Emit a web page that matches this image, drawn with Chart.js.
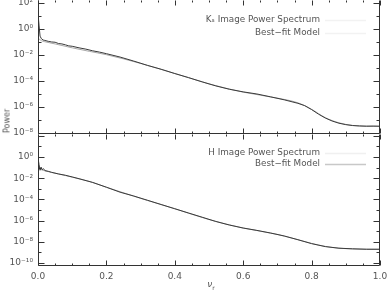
<!DOCTYPE html>
<html>
<head>
<meta charset="utf-8">
<script src="https://cdn.jsdelivr.net/npm/chart.js@4.4.1/dist/chart.umd.min.js"></script>
<style>
  body { margin: 0; background: #fff; width: 389px; height: 291px; overflow: hidden; position: relative; font-family: "DejaVu Sans", sans-serif; }
  canvas { position: absolute; left: 0; top: 0; }
  #ytitle { position: absolute; left: 7px; top: 121px; transform: translate(-50%, -50%) rotate(-90deg); font-size: 8px; color: #555; white-space: nowrap; }
  #xtitle { position: absolute; left: 211px; top: 285px; transform: translate(-50%, -50%); font-size: 9px; color: #555; white-space: nowrap; }
  #xtitle sub { font-size: 6px; }
</style>
</head>
<body>
<canvas id="topChart" width="389" height="291"></canvas>
<canvas id="bottomChart" width="389" height="291"></canvas>
<div id="ytitle">Power</div>
<div id="xtitle"><i>ν</i><sub>r</sub></div>
<script>
// valeurs (log10 de la puissance)
const nuK = [0, 0.003, 0.006, 0.01, 0.015, 0.02, 0.03, 0.04, 0.05, 0.06, 0.07, 0.08, 0.09, 0.10,
  0.12, 0.14, 0.16, 0.18, 0.20, 0.24, 0.28, 0.32, 0.36, 0.40, 0.44, 0.48, 0.52, 0.56, 0.60, 0.64,
  0.68, 0.72, 0.76, 0.78, 0.80, 0.82, 0.84, 0.86, 0.88, 0.90, 0.92, 0.94, 0.96, 0.98, 1.0];
const logK = [1.2, 0.3, -0.55, -0.75, -0.85, -0.88, -0.95, -1.0, -1.02, -1.12, -1.15, -1.22, -1.3, -1.33,
  -1.45, -1.55, -1.68, -1.78, -1.9, -2.16, -2.47, -2.8, -3.1, -3.43, -3.74, -4.07, -4.38, -4.64, -4.84, -5.0,
  -5.22, -5.45, -5.72, -5.9, -6.2, -6.55, -6.85, -7.08, -7.25, -7.36, -7.43, -7.46, -7.48, -7.47, -7.48];

const nuFit = [0, 0.01, 0.02, 0.05, 0.1, 0.15, 0.2, 0.3, 0.4, 0.5, 0.6, 0.7, 0.76, 0.8, 0.84, 0.88, 0.92, 0.96, 1.0];
const logKFit = [-0.7, -0.9, -0.98, -1.15, -1.45, -1.72, -1.98, -2.65, -3.42, -4.22, -4.86, -5.32, -5.68, -6.18, -6.82, -7.22, -7.42, -7.48, -7.5];

const nuH = [0, 0.003, 0.006, 0.009, 0.012, 0.016, 0.02, 0.03, 0.04, 0.06, 0.08, 0.10, 0.12,
  0.16, 0.20, 0.24, 0.28, 0.32, 0.36, 0.40, 0.44, 0.48, 0.52, 0.56, 0.60, 0.64, 0.68, 0.72, 0.76,
  0.80, 0.84, 0.88, 0.92, 0.96, 1.0];
const logH = [-0.1, -0.7, -1.25, -0.95, -1.2, -1.1, -1.28, -1.35, -1.45, -1.6, -1.72, -1.88, -2.05,
  -2.4, -2.85, -3.32, -3.68, -4.08, -4.48, -4.88, -5.28, -5.68, -6.08, -6.42, -6.7, -6.92, -7.17, -7.45, -7.8,
  -8.17, -8.45, -8.6, -8.66, -8.7, -8.7];
const logHFit = [-0.9, -1.2, -1.3, -1.52, -1.9, -2.3, -2.85, -3.9, -4.88, -5.9, -6.7, -7.3, -7.8, -8.15, -8.43, -8.6, -8.67, -8.7, -8.71];

const topLegend = ["Kₛ Image Power Spectrum", "Best−fit Model"];
const bottomLegend = ["H Image Power Spectrum", "Best−fit Model"];

const topYTicks = [1e2, 1e0, 1e-2, 1e-4, 1e-6, 1e-8];
const bottomYTicks = [1e0, 1e-2, 1e-4, 1e-6, 1e-8, 1e-10];
const xTicks = [0, 0.2, 0.4, 0.6, 0.8, 1.0];

const fontFam = "'DejaVu Sans', sans-serif";
const sup = { "-": "⁻", "0": "⁰", "1": "¹", "2": "²", "3": "³", "4": "⁴", "5": "⁵", "6": "⁶", "7": "⁷", "8": "⁸", "9": "⁹" };
const powLabel = v => "10" + String(Math.round(Math.log10(v))).split("").map(c => sup[c]).join("");
const pts = (nu, lg) => nu.map((n, i) => ({ x: n, y: Math.pow(10, lg[i]) }));

// cadre + graduations vers l'interieur
const framePlugin = {
  id: "frame",
  afterDatasetsDraw(chart, args, opts) {
    const { ctx, chartArea: a, scales } = chart;
    const L = Math.round(a.left) + 0.5, R = Math.round(a.right) - 0.5;
    const T = Math.round(a.top) + 0.5, B = Math.round(a.bottom) - 0.5;
    ctx.save();
    ctx.strokeStyle = "#333";
    ctx.lineWidth = 1;
    ctx.beginPath();
    ctx.moveTo(L, T); ctx.lineTo(L, B); ctx.lineTo(R, B); ctx.lineTo(R, T);
    if (opts.topLine) { ctx.moveTo(L, T); ctx.lineTo(R, T); }
    const y = scales.y;
    const kmin = Math.ceil(Math.log10(y.min)), kmax = Math.floor(Math.log10(y.max));
    for (let k = kmin; k <= kmax; k++) {
      const py = Math.round(y.getPixelForValue(Math.pow(10, k))) + 0.5;
      const len = k % 2 === 0 ? 6 : 3;
      ctx.moveTo(L, py); ctx.lineTo(L + len, py);
      ctx.moveTo(R, py); ctx.lineTo(R - len, py);
    }
    const x = scales.x;
    for (let i = 0; i <= 20; i++) {
      const px = Math.round(x.getPixelForValue(i * 0.05)) + 0.5;
      const len = i % 4 === 0 ? 5 : 2;
      ctx.moveTo(px, B); ctx.lineTo(px, B - len);
      ctx.moveTo(px, T); ctx.lineTo(px, T + len);
    }
    ctx.stroke();
    ctx.restore();
  }
};

// legende a droite
const legendPlugin = {
  id: "panelLegend",
  afterDraw(chart, args, opts) {
    const { ctx } = chart;
    ctx.save();
    ctx.font = "8.8px " + fontFam;
    ctx.fillStyle = "#555";
    ctx.textAlign = "right";
    ctx.textBaseline = "middle";
    opts.items.forEach((it, i) => {
      const yy = opts.y[i];
      ctx.fillText(it, 320, yy);
      ctx.strokeStyle = opts.sample[i];
      ctx.lineWidth = 1.5;
      ctx.beginPath();
      ctx.moveTo(325, yy + 0.5);
      ctx.lineTo(366, yy + 0.5);
      ctx.stroke();
    });
    ctx.restore();
  }
};

function makeChart(id, cfg) {
  return new Chart(document.getElementById(id).getContext("2d"), {
    type: "line",
    data: {
      datasets: [
        { label: cfg.legend[0], data: cfg.data, borderColor: "#3a3a3a", borderWidth: 1, pointRadius: 0, tension: 0 },
        { label: cfg.legend[1], data: cfg.fit, borderColor: "#a8a8a8", borderWidth: 1, pointRadius: 0, cubicInterpolationMode: "monotone" }
      ]
    },
    options: {
      responsive: false,
      animation: false,
      layout: { padding: cfg.padding },
      plugins: {
        legend: { display: false },
        tooltip: { enabled: false },
        frame: { topLine: cfg.topLine },
        panelLegend: { items: cfg.legend, y: cfg.legendY, sample: cfg.sample }
      },
      scales: {
        x: {
          type: "linear", min: 0, max: 1,
          display: cfg.showX,
          afterFit(s) { s.height = cfg.showX ? 25 : 0; s.paddingLeft = 0; s.paddingRight = 0; },
          afterBuildTicks(s) { s.ticks = xTicks.map(v => ({ value: v })); },
          ticks: { callback: v => v.toFixed(1), font: { family: fontFam, size: 9 }, color: "#555", padding: 5, maxRotation: 0, autoSkip: false },
          grid: { display: false, drawTicks: false },
          border: { display: false }
        },
        y: {
          type: "logarithmic", min: cfg.ymin, max: cfg.ymax,
          afterFit(s) { s.width = 38; s.paddingTop = 0; s.paddingBottom = 0; },
          afterBuildTicks(s) { s.ticks = cfg.yTicks.map(v => ({ value: v })); },
          ticks: { callback: powLabel, font: { family: fontFam, size: 9 }, color: "#555", padding: 5, autoSkip: false },
          grid: { display: false, drawTicks: false },
          border: { display: false }
        }
      }
    },
    plugins: [framePlugin, legendPlugin]
  });
}

makeChart("topChart", {
  data: pts(nuK, logK), fit: pts(nuFit, logKFit),
  legend: topLegend, legendY: [20, 33], sample: ["#f2f2f2", "#f2f2f2"],
  padding: { top: 0, right: 9, bottom: 157, left: 0 },
  ymin: Math.pow(10, -8.08), ymax: Math.pow(10, 2.23),
  yTicks: topYTicks, showX: false, topLine: false
});

makeChart("bottomChart", {
  data: pts(nuH, logH), fit: pts(nuFit, logHFit),
  legend: bottomLegend, legendY: [153, 164], sample: ["#f0f0f0", "#c8c8c8"],
  padding: { top: 134, right: 9, bottom: 0, left: 0 },
  ymin: Math.pow(10, -10.28), ymax: Math.pow(10, 2.17),
  yTicks: bottomYTicks, showX: true, topLine: false
});
</script>
</body>
</html>
